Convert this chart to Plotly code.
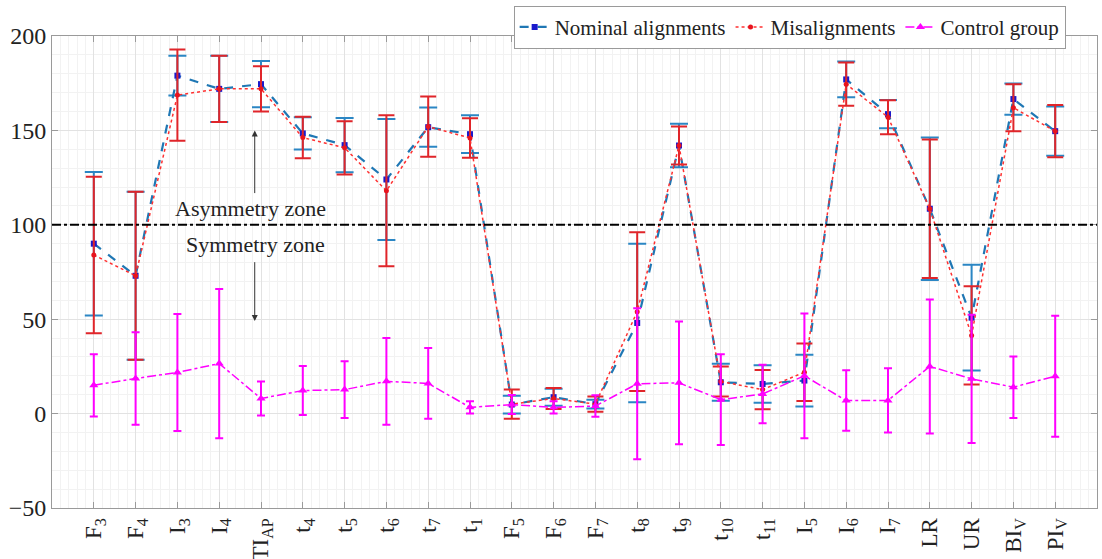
import plotly.graph_objects as go

categories = ["F<sub>3</sub>", "F<sub>4</sub>", "I<sub>3</sub>", "I<sub>4</sub>", "TI<sub>AP</sub>",
              "t<sub>4</sub>", "t<sub>5</sub>", "t<sub>6</sub>", "t<sub>7</sub>", "t<sub>1</sub>",
              "F<sub>5</sub>", "F<sub>6</sub>", "F<sub>7</sub>", "t<sub>8</sub>", "t<sub>9</sub>",
              "t<sub>10</sub>", "t<sub>11</sub>", "I<sub>5</sub>", "I<sub>6</sub>", "I<sub>7</sub>",
              "LR", "UR", "BI<sub>V</sub>", "PI<sub>V</sub>"]
positions = list(range(1, len(categories) + 1))

nominal_mean = [90, 73, 179, 172, 174.5, 148.4, 142.2, 124, 151.7, 148, 4.8, 8.7, 5, 48, 142,
                16.6, 15.7, 17.5, 177, 158.6, 108.5, 50.8, 166.6, 149.6]
nominal_sd = [38, 44.5, 10.5, 17.5, 12.2, 8.5, 14.4, 32, 10.4, 10, 4.7, 4.5, 2.3, 42, 11.5,
              9.8, 9.9, 13.7, 9.5, 7.5, 37.7, 28, 8.3, 13]

mis_mean = [84, 73, 168.7, 172, 172, 146.2, 140.8, 118, 152, 146, 5, 8, 5, 54, 142,
            17, 12.7, 21.9, 174.5, 157, 108.5, 41.4, 162, 149.6]
mis_sd = [41.5, 44.5, 24.2, 17.5, 12, 11, 14.1, 40, 16, 10.5, 7.7, 5.5, 4, 42, 10,
          8, 10.4, 15.2, 11.5, 9, 36.7, 26, 12.5, 13.8]

control_mean = [15, 18.6, 21.8, 26.5, 8, 12.2, 12.7, 17.1, 16, 3.3, 4.8, 3.3, 4, 15.8, 16.3,
                7.4, 10.4, 20, 6.9, 7, 25, 18.4, 14, 19.8]
control_sd = [16.5, 24.5, 31, 39.5, 9, 13, 15, 23, 18.7, 3.3, 5, 3.3, 5.7, 40, 32.5,
              24, 15.5, 33, 16, 17, 35.5, 34, 16.3, 32]

threshold = 100
y_ticks = [-50, 0, 50, 100, 150, 200]

SERIF = "Liberation Serif"

fig = go.Figure()

fig.add_trace(go.Scatter(
    x=positions, y=nominal_mean, name="Nominal alignments", mode="lines+markers",
    line=dict(color="#1f77b4", width=2.2, dash="dash"),
    marker=dict(symbol="square", size=6, color="#1a1acc"),
    error_y=dict(type="data", array=nominal_sd, color="#2b86c4", thickness=2, width=9),
))
fig.add_trace(go.Scatter(
    x=positions, y=mis_mean, name="Misalignments", mode="lines+markers",
    line=dict(color="#ff3030", width=1.5, dash="dot"),
    marker=dict(symbol="circle", size=5, color="#e8141e"),
    error_y=dict(type="data", array=mis_sd, color="#e0252a", thickness=2, width=8),
))
fig.add_trace(go.Scatter(
    x=positions, y=control_mean, name="Control group", mode="lines+markers",
    line=dict(color="#ff00ff", width=1.5, dash="dashdot"),
    marker=dict(symbol="triangle-up", size=8, color="#ff00ff"),
    error_y=dict(type="data", array=control_sd, color="#ff00ff", thickness=2, width=4),
))

fig.add_shape(type="line", xref="paper", yref="y", x0=0, x1=1, y0=threshold, y1=threshold,
              line=dict(color="black", width=2, dash="dashdot"))

fig.add_annotation(x=4.76, y=108.8, text="Asymmetry zone", showarrow=False,
                   font=dict(family=SERIF, size=22, color="#222"))
fig.add_annotation(x=4.86, y=89.7, text="Symmetry zone", showarrow=False,
                   font=dict(family=SERIF, size=22, color="#222"))
fig.add_annotation(x=4.85, y=150, ax=4.85, ay=116, axref="x", ayref="y", xref="x", yref="y",
                   text="", showarrow=True, arrowhead=2, arrowsize=1.2, arrowwidth=1, arrowcolor="#333")
fig.add_annotation(x=4.85, y=49, ax=4.85, ay=81, axref="x", ayref="y", xref="x", yref="y",
                   text="", showarrow=True, arrowhead=2, arrowsize=1.2, arrowwidth=1, arrowcolor="#333")

axis_common = dict(showline=True, linecolor="#9a9a9a", linewidth=1, mirror="ticks",
                   ticks="inside", tickcolor="#9a9a9a", ticklen=6, zeroline=False,
                   gridcolor="#e2e2e2", gridwidth=1, automargin=False)

fig.update_xaxes(range=[0, 25], tickmode="array", tickvals=positions, ticktext=categories,
                 tickangle=-90, tickfont=dict(family=SERIF, size=23, color="#222"),
                 minor=dict(dtick=0.2, tick0=0, showgrid=True, gridcolor="#f2f2f2", ticks=""),
                 **axis_common)
fig.update_yaxes(range=[-50, 200], tickmode="array", tickvals=y_ticks,
                 tickfont=dict(family=SERIF, size=24, color="#222"),
                 minor=dict(dtick=10, showgrid=True, gridcolor="#f2f2f2", ticks=""),
                 **axis_common)

fig.update_layout(
    width=1102, height=559,
    margin=dict(l=52, r=5, t=36, b=51),
    plot_bgcolor="white", paper_bgcolor="white",
    font=dict(family=SERIF, size=21, color="#222"),
    legend=dict(orientation="h", x=0.97, xanchor="right", y=1.064, yanchor="top",
                bordercolor="#9a9a9a", borderwidth=1, bgcolor="white",
                font=dict(family=SERIF, size=21, color="#222"),
                itemwidth=30, tracegroupgap=0),
    showlegend=True,
)

fig.write_html("out.html")
